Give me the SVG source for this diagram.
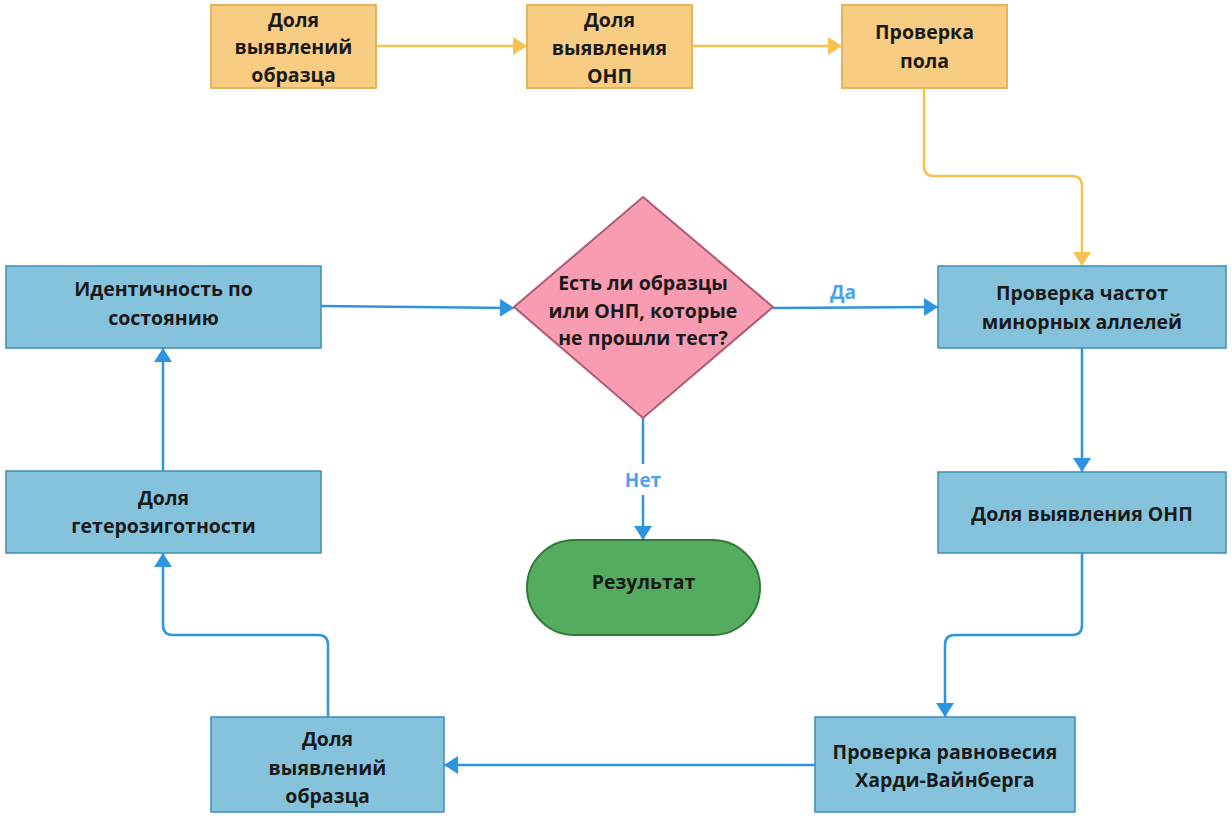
<svg xmlns="http://www.w3.org/2000/svg" width="1232" height="819" viewBox="0 0 1232 819">
<defs>
<style>
.t{font-family:"Open Sans","Noto Sans","DejaVu Sans",sans-serif;font-weight:bold;font-size:19.5px;fill:#1a1a1a;text-anchor:middle;dominant-baseline:central}
.org{fill:#f8cd83;stroke:#e3b460;stroke-width:2}
.blu{fill:#85c3dc;stroke:#3b8fb5;stroke-width:1.5}
.co{fill:none;stroke:#f5c24f;stroke-width:2.5}
.cb{fill:none;stroke:#2d94e0;stroke-width:2.5}
.lbl{font-family:"Open Sans","Noto Sans","DejaVu Sans",sans-serif;font-weight:bold;font-size:19px;fill:#4ea2ea;text-anchor:middle;dominant-baseline:central}
</style>
<marker id="ao" viewBox="0 0 14 18" refX="14" refY="9" markerWidth="14" markerHeight="18" markerUnits="userSpaceOnUse" orient="auto"><path d="M0,0L14,9L0,18z" fill="#f5c24f"/></marker>
<marker id="ab" viewBox="0 0 14 18" refX="14" refY="9" markerWidth="14" markerHeight="18" markerUnits="userSpaceOnUse" orient="auto"><path d="M0,0L14,9L0,18z" fill="#2d94e0"/></marker>
</defs>
<rect width="1232" height="819" fill="#ffffff"/>
<g id="connectors">
<path class="co" d="M376,46H527" marker-end="url(#ao)"/>
<path class="co" d="M692,46H842" marker-end="url(#ao)"/>
<path class="co" d="M924,88V166Q924,176 934,176H1072Q1082,176 1082,186V266" marker-end="url(#ao)"/>
<path class="cb" d="M321,306L514,308" marker-end="url(#ab)"/>
<path class="cb" d="M773,308L938,307" marker-end="url(#ab)"/>
<path class="cb" d="M643,418V540" marker-end="url(#ab)"/>
<path class="cb" d="M1082,348V472" marker-end="url(#ab)"/>
<path class="cb" d="M1082,553V625Q1082,635 1072,635H955Q945,635 945,645V717" marker-end="url(#ab)"/>
<path class="cb" d="M815,765H444" marker-end="url(#ab)"/>
<path class="cb" d="M328,717V645Q328,635 318,635H173Q163,635 163,625V553" marker-end="url(#ab)"/>
<path class="cb" d="M163,471V348" marker-end="url(#ab)"/>
<text class="lbl" x="843" y="292">Да</text>
<rect x="620" y="464" width="46" height="31" fill="#ffffff"/>
<text class="lbl" x="643" y="480">Нет</text>
</g>
<g id="n1"><rect class="org" x="211" y="5" width="165" height="83"/><text class="t" x="293.5" y="19">Доля</text><text class="t" x="293.5" y="46">выявлений</text><text class="t" x="293.5" y="74">образца</text></g>
<g id="n2"><rect class="org" x="527" y="5" width="165" height="83"/><text class="t" x="609.5" y="19">Доля</text><text class="t" x="609.5" y="47">выявления</text><text class="t" x="609.5" y="75">ОНП</text></g>
<g id="n3"><rect class="org" x="842" y="5" width="165" height="83"/><text class="t" x="924.5" y="31">Проверка</text><text class="t" x="924.5" y="60">пола</text></g>
<g id="n4"><rect class="blu" x="938" y="266" width="288" height="82"/><text class="t" x="1082" y="292">Проверка частот</text><text class="t" x="1082" y="321">минорных аллелей</text></g>
<g id="n5"><rect class="blu" x="938" y="472" width="288" height="81"/><text class="t" x="1082" y="513">Доля выявления ОНП</text></g>
<g id="n6"><rect class="blu" x="815" y="717" width="260" height="95"/><text class="t" x="945" y="751">Проверка равновесия</text><text class="t" x="945" y="779">Харди-Вайнберга</text></g>
<g id="n7"><rect class="blu" x="211" y="717" width="233" height="95"/><text class="t" x="327.5" y="738">Доля</text><text class="t" x="327.5" y="767">выявлений</text><text class="t" x="327.5" y="795">образца</text></g>
<g id="n8"><rect class="blu" x="6" y="471" width="315" height="82"/><text class="t" x="163.5" y="497">Доля</text><text class="t" x="163.5" y="525">гетерозиготности</text></g>
<g id="n9"><rect class="blu" x="6" y="266" width="315" height="82"/><text class="t" x="163.5" y="288">Идентичность по</text><text class="t" x="163.5" y="317">состоянию</text></g>
<g id="n10"><polygon points="643,197 773,307 643,418 514,307" fill="#f89cb2" stroke="#b05a72" stroke-width="2"/><text class="t" x="643" y="282">Есть ли образцы</text><text class="t" x="643" y="310">или ОНП, которые</text><text class="t" x="643" y="337">не прошли тест?</text></g>
<g id="n11"><rect x="527" y="540" width="233" height="95" rx="47.5" fill="#55ab5f" stroke="#2e7a36" stroke-width="2"/><text class="t" x="643.5" y="581">Результат</text></g>
</svg>
